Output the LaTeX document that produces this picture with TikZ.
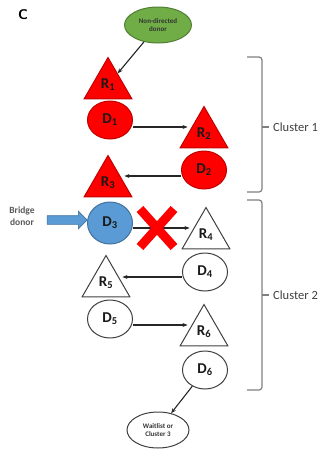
\documentclass[tikz,border=0pt]{standalone}
\usepackage{fontspec}
\setmainfont{Carlito}
\usetikzlibrary{shapes.geometric,shapes.arrows,arrows.meta,calc}
\definecolor{myred}{RGB}{255,0,0}
\definecolor{myredline}{RGB}{192,0,0}
\definecolor{myblue}{RGB}{91,155,213}
\definecolor{mybluel}{RGB}{65,113,156}
\definecolor{mygreen}{RGB}{112,173,71}
\definecolor{mygreenl}{RGB}{80,126,50}
\definecolor{mygray}{RGB}{64,64,64}
\definecolor{brgray}{RGB}{127,127,127}
\definecolor{txtgray}{RGB}{89,89,89}
\begin{document}
\begin{tikzpicture}[x=1pt,y=-1pt,
  lbl/.style={font=\bfseries\fontsize{15}{15}\selectfont, text=black!90},
  tri/.style={regular polygon, regular polygon sides=3, minimum size=55pt, inner sep=0pt, line width=1pt, lbl},
  circ/.style={ellipse, minimum width=45pt, minimum height=38pt, inner sep=1pt, line width=1pt, lbl},
  redsh/.style={fill=myred, draw=myredline},
  whsh/.style={fill=white, draw=mygray},
  conn/.style={-{Stealth[length=5pt,width=4pt]}, line width=1.1pt, draw=black!85},
  brk/.style={draw=brgray, line width=1.2pt, rounded corners=3pt},
  clbl/.style={font=\fontsize{12.5}{13}\selectfont, text=mygray, anchor=west, inner sep=0pt},
  small/.style={font=\bfseries\fontsize{7}{8}\selectfont, align=center}
]
\useasboundingbox (0,0) rectangle (324,450);
\node[font=\bfseries\sffamily\fontsize{14}{14}\selectfont] (C) at (23,15) {C};

\node[ellipse, fill=mygreen, draw=mygreenl, line width=1pt, minimum width=67pt, minimum height=36pt, inner sep=0pt, small, text=black!80] (nd) at (158,25) {Non-directed\\donor};

\node[tri, redsh] (R1) at (108,85) {R\textsubscript{1}};
\node[circ, redsh] (D1) at (110,120) {D\textsubscript{1}};
\node[tri, redsh] (R2) at (204,134) {R\textsubscript{2}};
\node[circ, redsh] (D2) at (204,170) {D\textsubscript{2}};
\node[tri, redsh] (R3) at (108,183) {R\textsubscript{3}};
\node[circ, fill=myblue, draw=mybluel, minimum height=42pt] (D3) at (110,223) {D\textsubscript{3}};
\node[tri, whsh] (R4) at (206,235) {R\textsubscript{4}};
\node[circ, whsh] (D4) at (205,272) {D\textsubscript{4}};
\node[tri, whsh] (R5) at (106,283) {R\textsubscript{5}};
\node[circ, whsh] (D5) at (110,319) {D\textsubscript{5}};
\node[tri, whsh] (R6) at (204,332) {R\textsubscript{6}};
\node[circ, whsh] (D6) at (205,370) {D\textsubscript{6}};

\node[ellipse, fill=white, draw=mygray, line width=1pt, minimum width=62pt, minimum height=36pt, inner sep=0pt, small, text=black!80] (wl) at (158,430) {Waitlist or\\Cluster 3};

\node[font=\bfseries\fontsize{9.5}{12}\selectfont, align=center, text=txtgray] (bd) at (22,216) {Bridge\\donor};
\node[single arrow, fill=myblue, draw=mybluel, line width=0.6pt, minimum height=40pt, inner sep=4pt, single arrow head extend=4.5pt, single arrow head indent=0pt] (ba) at (65,220) {};

\draw[conn] (nd) -- (R1);
\draw[conn] (D1.east |- 0,127) coordinate (a1) -- (R2.west |- a1);
\draw[conn] (D2.west |- 0,176) coordinate (a2) -- (R3.east |- a2);
\draw[conn] (D3.east |- 0,228) coordinate (a3) -- (R4.west |- a3);
\draw[conn] (D4.west |- 0,277) coordinate (a4) -- (R5.east |- a4);
\draw[conn] (D5.east |- 0,325) coordinate (a5) -- (R6.west |- a5);
\draw[conn] (D6) -- (wl);

% red cross
\coordinate (xc) at (157,228);
\draw[myred, line width=9pt] ($(xc)+(-17,-19)$) -- ($(xc)+(17,19)$);
\draw[myred, line width=9pt] ($(xc)+(17,-19)$) -- ($(xc)+(-17,19)$);

% brackets
\draw[brk] (247,57) -- (262,57) -- (262,192) -- (247,192);
\coordinate (t1) at (262,127);
\node[clbl] (c1) at (273,127) {Cluster 1};
\draw[draw=brgray, line width=1.2pt, shorten >=4pt] (t1) -- (c1.west);
\draw[brk] (247,200) -- (262,200) -- (262,390) -- (247,390);
\coordinate (t2) at (262,295);
\node[clbl] (c2) at (273,295) {Cluster 2};
\draw[draw=brgray, line width=1.2pt, shorten >=4pt] (t2) -- (c2.west);
\end{tikzpicture}
\end{document}
